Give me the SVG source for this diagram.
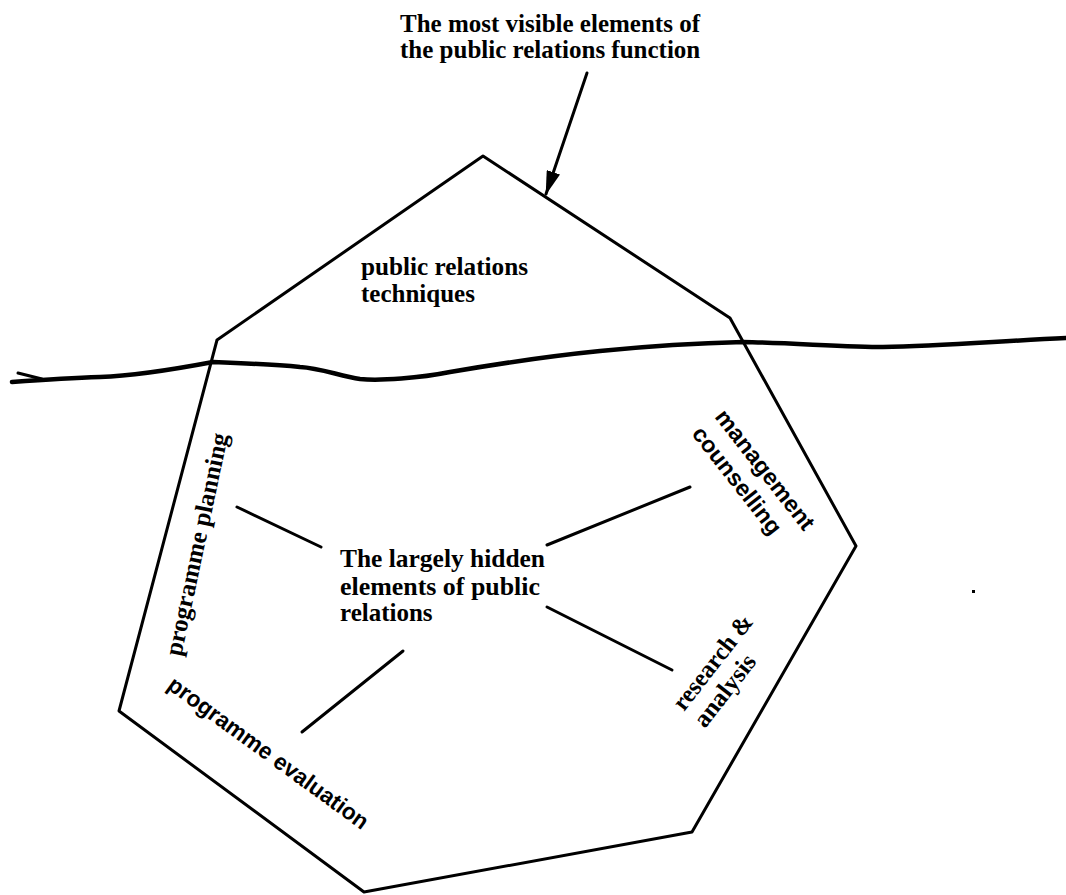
<svg xmlns="http://www.w3.org/2000/svg" width="1066" height="895" viewBox="0 0 1066 895">
<defs>
<marker id="ah" markerUnits="userSpaceOnUse" markerWidth="24" markerHeight="14" refX="23" refY="7" orient="auto"><path d="M0,0 L24,7 L0,14 z" fill="#000"/></marker>
<style>
.ln{fill:none;stroke:#000;stroke-width:3;stroke-linecap:round;stroke-linejoin:round}
.wl{fill:none;stroke:#000;stroke-width:4.5;stroke-linecap:round;stroke-linejoin:round}
.serif{font-family:"Liberation Serif","Times New Roman",serif;font-size:25px;font-weight:bold;fill:#000}
.sans{font-family:"Liberation Sans",Arial,sans-serif;font-size:23px;font-weight:bold;fill:#000}
</style>
</defs>
<rect width="1066" height="895" fill="#fff"/>
<g id="iceberg">
<polygon class="ln" points="483,156 730,318 856,546 692,832 364,892 119,711 217,340"/>
</g>
<g id="waterline">
<path class="wl" d="M12,382 C40,380 70,378 100,377 C130,376 160,372 213,362 C240,363 280,365 300,367 C320,368 340,376 360,379 C380,381 420,378 450,372 C520,360 560,355 600,351 C640,347 700,343 743,342 C790,343 850,347 883,347 C940,346 1000,341 1066,338"/>
<path class="ln" d="M18,373 L42,379"/>
</g>
<g id="label-visible">
<text class="serif" x="400" y="32">The most visible elements of</text>
<text class="serif" x="400" y="58">the public relations function</text>
</g>
<g id="label-techniques">
<text class="serif" x="361" y="275" textLength="167" lengthAdjust="spacingAndGlyphs">public relations</text>
<text class="serif" x="361" y="302">techniques</text>
</g>
<g id="label-hidden">
<text class="serif" x="340" y="567" textLength="205" lengthAdjust="spacingAndGlyphs">The largely hidden</text>
<text class="serif" x="340" y="595" textLength="200" lengthAdjust="spacingAndGlyphs">elements of public</text>
<text class="serif" x="340" y="621">relations</text>
</g>
<g id="label-planning">
<text class="serif" x="181" y="657" transform="rotate(-78 181 657)" textLength="227" lengthAdjust="spacingAndGlyphs">programme planning</text>
</g>
<g id="label-evaluation">
<text class="sans" x="166" y="688" transform="rotate(36 166 688)" textLength="242" lengthAdjust="spacingAndGlyphs">programme evaluation</text>
</g>
<g id="label-management">
<text class="sans" x="714" y="417" transform="rotate(52 714 417)" textLength="146" lengthAdjust="spacingAndGlyphs">management</text>
<text class="sans" x="691" y="434" transform="rotate(52 691 434)" textLength="130" lengthAdjust="spacingAndGlyphs">counselling</text>
</g>
<g id="label-research">
<text class="serif" x="684" y="712" transform="rotate(-52 684 712)" textLength="114" lengthAdjust="spacingAndGlyphs">research &amp;</text>
<text class="serif" x="705" y="729" transform="rotate(-52 705 729)" textLength="85" lengthAdjust="spacingAndGlyphs">analysis</text>
</g>
<g id="connectors">
<line class="ln" x1="587" y1="73" x2="546" y2="194" marker-end="url(#ah)"/>
<line class="ln" x1="237" y1="507" x2="321" y2="547"/>
<line class="ln" x1="403" y1="651" x2="302" y2="732"/>
<line class="ln" x1="547" y1="545" x2="690" y2="487"/>
<line class="ln" x1="547" y1="607" x2="672" y2="670"/>
</g>
<rect x="972" y="590" width="3" height="3" fill="#000"/>
</svg>
